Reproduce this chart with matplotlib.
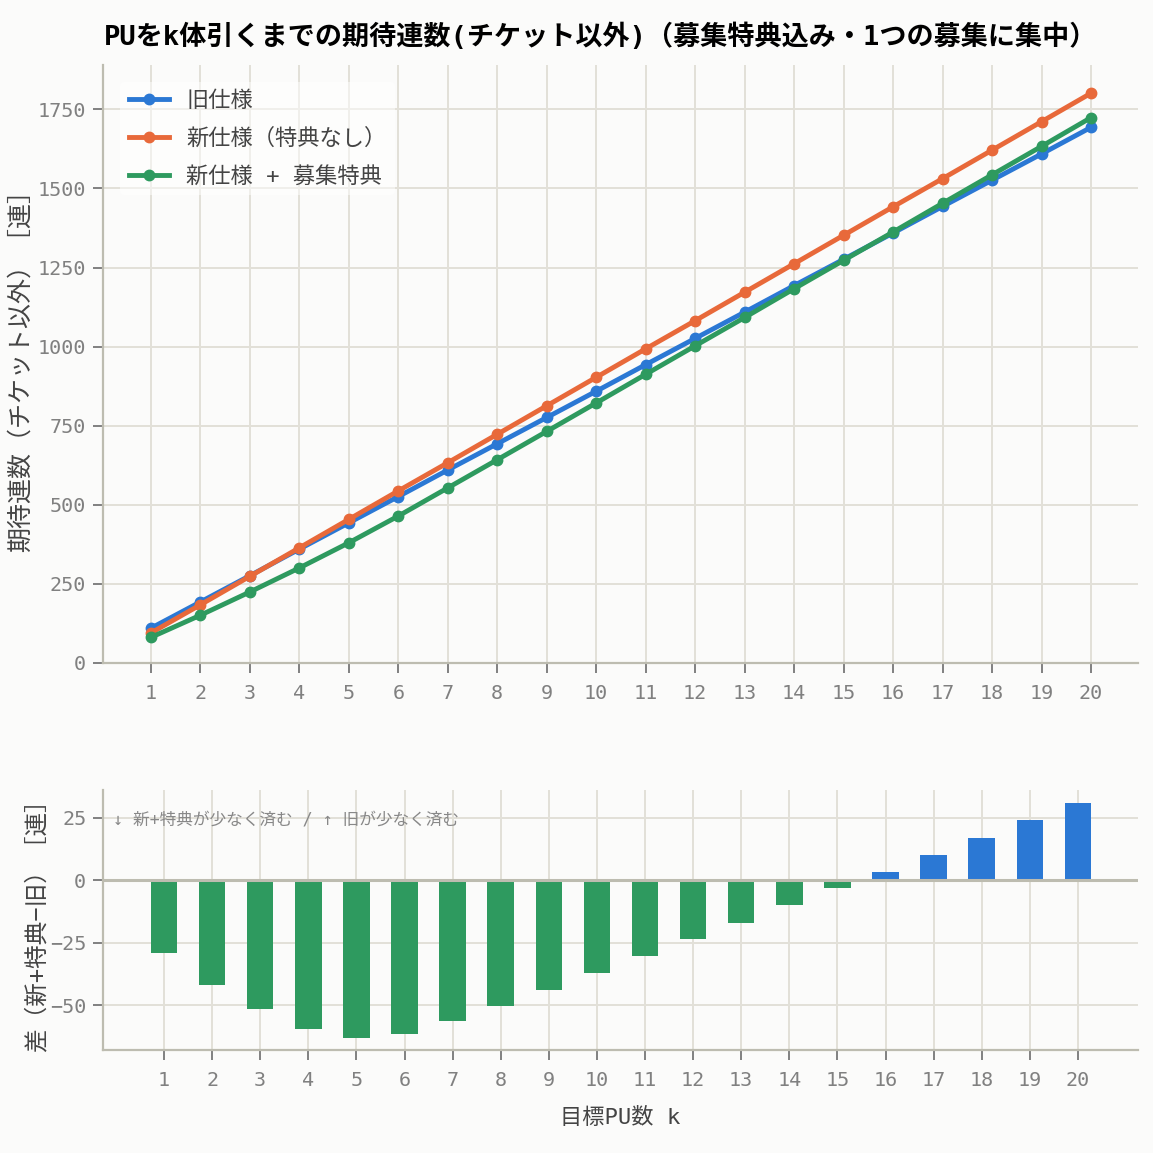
import numpy as np
import matplotlib
matplotlib.use('Agg')
import matplotlib.pyplot as plt

plt.rcParams['font.family'] = ['DejaVu Sans Mono', 'Noto Sans CJK JP']

# Data
k = [1, 2, 3, 4, 5, 6, 7, 8, 9, 10, 11, 12, 13, 14, 15, 16, 17, 18, 19, 20]
old_spec = [110, 193, 276, 360, 443, 526, 610, 693, 776, 859,
            943, 1026, 1109, 1193, 1276, 1359, 1443, 1526, 1609, 1693]
new_spec = [95, 184, 274, 364, 454, 544, 633, 723, 813, 903,
            993, 1082, 1172, 1262, 1352, 1442, 1531, 1621, 1711, 1801]
new_bonus = [81, 151, 224.5, 300.5, 380, 464.5, 553.5, 642.5, 732, 822,
             912.5, 1002.5, 1092, 1183, 1272.7, 1362.3, 1453, 1543, 1633, 1723.8]
diff = [-29, -42, -51.5, -59.5, -63, -61.5, -56.5, -50.5, -44, -37,
        -30.5, -23.5, -17, -10, -3.3, 3.3, 10, 17, 24, 30.8]

labels = ['旧仕様', '新仕様（特典なし）', '新仕様 + 募集特典']
colors = ['#2b78d4', '#e8693a', '#2e9a5f']

bg = '#fbfbfa'
spine_c = '#bdbcb0'
grid_c = '#e2e0d8'
tick_c = '#808080'
label_c = '#444444'

fig = plt.figure(figsize=(11.53, 11.53), dpi=100, facecolor=bg)
ax1 = fig.add_axes([0.0893, 0.425, 0.8977, 0.5186], facecolor=bg)
ax2 = fig.add_axes([0.0893, 0.0893, 0.8977, 0.2255], facecolor=bg)

for ax in (ax1, ax2):
    for s in ('top', 'right'):
        ax.spines[s].set_visible(False)
    for s in ('left', 'bottom'):
        ax.spines[s].set_color(spine_c)
        ax.spines[s].set_linewidth(1.6)
    ax.grid(True, color=grid_c, linewidth=1.4)
    ax.set_axisbelow(True)
    ax.tick_params(colors=tick_c, labelsize=14.5, length=7, width=1.4)
    ax.tick_params(axis='x', pad=8)
    ax.tick_params(axis='y', pad=5)
    ax.set_xticks(k)

# Top: expected pulls
for ys, lab, c in zip([old_spec, new_spec, new_bonus], labels, colors):
    ax1.plot(k, ys, marker='o', markersize=7.5, linewidth=3.5, color=c, label=lab)
ax1.set_xlim(0.03, 20.95)
ax1.set_ylim(0, 1890)
ax1.set_yticks([0, 250, 500, 750, 1000, 1250, 1500, 1750])
ax1.set_ylabel('期待連数（チケット以外）［連］', fontsize=18, color=label_c)
ax1.yaxis.set_label_coords(-0.068, 0.5)
leg = ax1.legend(loc='upper left', fontsize=16, frameon=True, facecolor='white',
                 edgecolor='none', framealpha=0.5, handlelength=1.8,
                 labelspacing=0.75, borderaxespad=0.75)
for t in leg.get_texts():
    t.set_color(label_c)

# Bottom: difference
bar_c = [colors[0] if d > 0 else colors[2] for d in diff]
ax2.bar(k, diff, width=0.55, color=bar_c, zorder=2)
ax2.axhline(0, color=spine_c, linewidth=2.2, zorder=3)
ax2.set_xlim(-0.27, 21.25)
ax2.set_ylim(-68, 36)
ax2.set_yticks([-50, -25, 0, 25])
ax2.set_ylabel('差（新+特典−旧）［連］', fontsize=17, color=label_c)
ax2.yaxis.set_label_coords(-0.053, 0.5)
ax2.set_xlabel('目標PU数 k', fontsize=16, color=label_c, labelpad=12)
ax2.text(0.01, 0.885, '↓ 新+特典が少なく済む / ↑ 旧が少なく済む', transform=ax2.transAxes,
         fontsize=12, color='#888888', va='center', ha='left')

fig.text(0.521, 0.968, 'PUをk体引くまでの期待連数(チケット以外)（募集特典込み・1つの募集に集中）',
         fontsize=19.5, fontweight='bold', ha='center', va='center', color='black')

fig.savefig('out.png', dpi=100, facecolor=bg)
